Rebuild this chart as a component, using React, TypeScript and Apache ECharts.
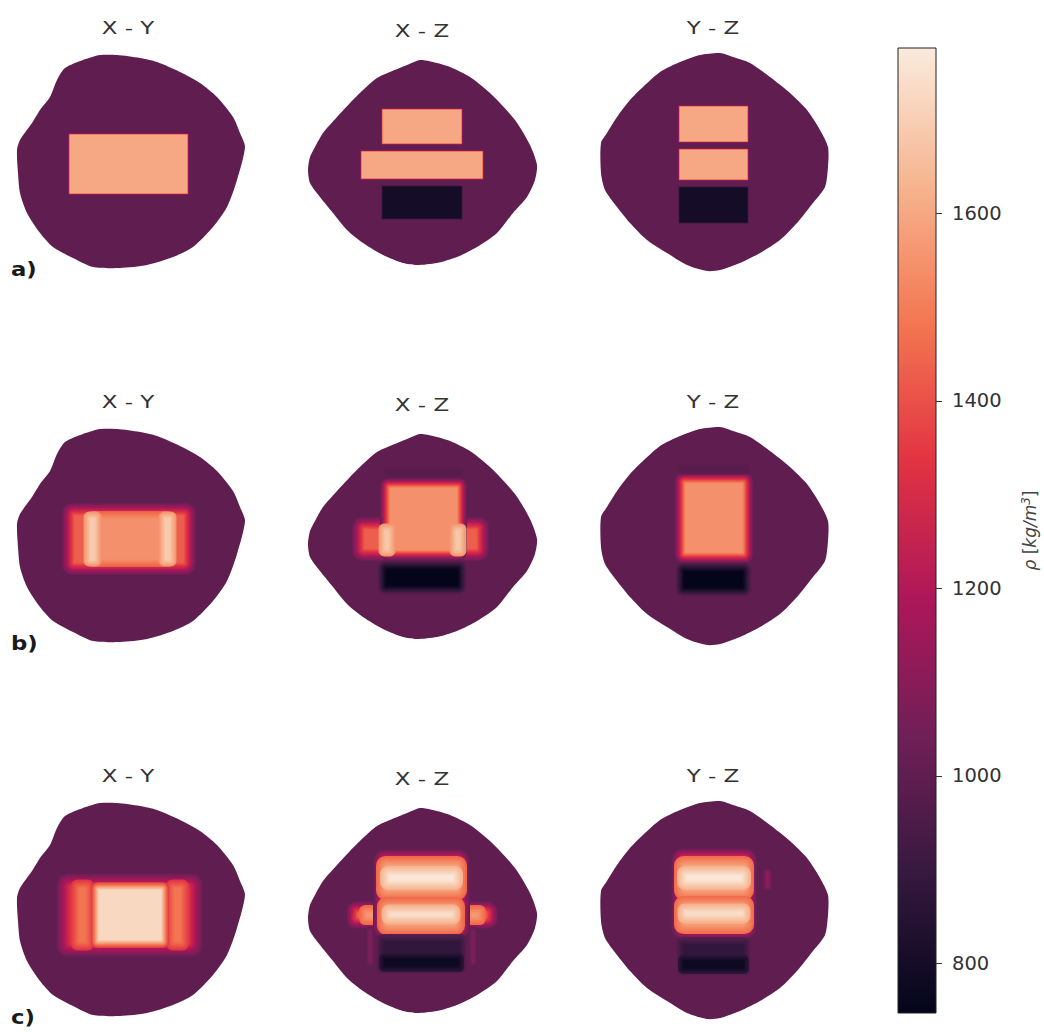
import React, { useEffect, useRef } from "react";
import * as echarts from "echarts";

// ---------- colour scale (density, kg/m^3) ----------
const CB_MIN = 747;
const CB_MAX = 1776;
const CB_TICKS = [800, 1000, 1200, 1400, 1600];
const BACKGROUND = 1000;

// seaborn "rocket" colormap anchor colours
const ROCKET_POS = [0.0, 0.143, 0.286, 0.429, 0.571, 0.714, 0.857, 1.0];
const ROCKET_HEX = ["#03051a", "#35193e", "#701f57", "#ad1759", "#e13342", "#f37651", "#f6b48f", "#faebdd"];

const ROW_LABELS = ["a)", "b)", "c)"];
const COL_TITLES = ["X - Y", "X - Z", "Y - Z"];

// ---------- outlines of the phantom in each slice (panel units) ----------
const OUTLINE_XY = [[85,5],[68,10],[50,18],[42,30],[35,47],[25,60],[17,73],[5,90],[2,100],[3,123],[5,143],[12,163],[25,183],[38,197],[58,208],[78,217],[105,218],[132,215],[158,207],[178,197],[198,177],[212,157],[222,130],[230,97],[225,83],[218,67],[202,47],[185,33],[165,22],[142,12],[125,8],[102,5]];
const OUTLINE_XZ = [[115,10],[102,15],[85,22],[72,28],[58,40],[45,53],[32,67],[18,83],[10,97],[5,107],[3,120],[5,133],[15,147],[28,163],[42,180],[58,193],[78,205],[98,213],[112,215],[132,213],[152,207],[172,197],[192,183],[208,163],[222,147],[230,130],[232,115],[225,95],[210,70],[185,43],[165,27],[145,17],[128,12]];
const OUTLINE_YZ = [[122,3],[102,5],[82,12],[62,22],[45,37],[32,50],[19,67],[9,83],[3,93],[3,123],[7,140],[19,157],[32,173],[49,190],[69,203],[89,215],[109,221],[122,220],[142,213],[162,203],[182,190],[199,173],[215,153],[227,137],[230,117],[230,97],[222,80],[209,60],[192,43],[172,27],[152,13],[135,7]];

// ---------- inclusions: [x0, y0, x1, y1, density, surrounding density, edge blur] ----------
const A_XY = [[54,84,173,144,1600,1000,1.5]];
const A_XZ = [[77,59,157,94,1600,1000,1.5],[56,101,178,129,1600,1000,1.5],[77,136,157,169,800,1000,1.5]];
const A_YZ = [[81,56,150,92,1600,1000,1.5],[81,99,150,130,1600,1000,1.5],[81,137,150,173,800,1000,1.5]];

const B_XY = [[53,85,175,145,1430,1000,13],[76,91,154,139,1545,1430,8],[72,91,83,139,1690,1545,7],[147,91,158,139,1690,1545,7]];
const B_XZ = [[53,99,178,131,1430,1000,13],[80,59,157,131,1545,1000,10],[77,103,87,129,1680,1545,7],[148,103,158,129,1680,1545,7],[77,141,157,166,750,1000,9],[80,45,157,51,978,1000,5]];
const B_YZ = [[82,54,150,134,1545,1000,11],[82,143,149,168,750,1000,9],[82,42,150,48,978,1000,5]];

const C_XY = [[48,82,181,152,1330,1000,15],[60,86,75,148,1480,1330,9],[155,86,170,148,1480,1330,9],[80,88,150,146,1725,1330,8]];
const C_XZ = [[47,109,187,125,1440,1000,12],[58,111,72,123,1560,1440,8],[163,111,177,123,1560,1440,8],[75,58,158,134,1440,1000,14],[77,64,156,96,1620,1440,12],[80,73,153,87,1765,1620,10],[78,105,154,131,1610,1440,12],[81,111,151,122,1740,1610,9],[75,140,158,172,880,1000,8],[77,158,156,171,780,880,6],[63,131,67,166,1090,1000,4],[166,131,170,166,1090,1000,4]];
const C_YZ = [[80,57,152,134,1450,1000,14],[82,64,150,96,1620,1450,12],[84,73,148,87,1765,1620,10],[82,104,150,130,1610,1450,12],[84,110,148,121,1740,1610,9],[82,143,149,174,880,1000,8],[83,160,148,173,780,880,6],[167,73,172,90,1130,1000,4]];

const PANEL_RECTS = [
  [A_XY, A_XZ, A_YZ],
  [B_XY, B_XZ, B_YZ],
  [C_XY, C_XZ, C_YZ],
];
const OUTLINES = [OUTLINE_XY, OUTLINE_XZ, OUTLINE_YZ];

// ---------- layout ----------
const COL_LEFT = [15, 305, 598];
const ROW_TOP = [50, 424, 798];
const PANEL_W = 235;
const PANEL_H = 225;
const TITLE_X = [128, 422, 713];
const TITLE_DY = [-22, -19, -22];

function hexToRgb(h: string) {
  const n = parseInt(h.slice(1), 16);
  return [(n >> 16) & 255, (n >> 8) & 255, n & 255];
}
const ROCKET_RGB = ROCKET_HEX.map(hexToRgb);

function rocket(v: number) {
  let t = (v - CB_MIN) / (CB_MAX - CB_MIN);
  t = Math.max(0, Math.min(1, t));
  let k = 0;
  while (k < ROCKET_POS.length - 2 && t > ROCKET_POS[k + 1]) k++;
  const f = (t - ROCKET_POS[k]) / (ROCKET_POS[k + 1] - ROCKET_POS[k]);
  const a = ROCKET_RGB[k];
  const b = ROCKET_RGB[k + 1];
  const c = a.map((x, i) => Math.round(x + (b[i] - x) * f));
  return `rgb(${c[0]},${c[1]},${c[2]})`;
}

function buildOption() {
  const grid: any[] = [];
  const xAxis: any[] = [];
  const yAxis: any[] = [];
  const series: any[] = [];
  const graphic: any[] = [];

  for (let r = 0; r < 3; r++) {
    for (let c = 0; c < 3; c++) {
      const idx = r * 3 + c;
      grid.push({ left: COL_LEFT[c], top: ROW_TOP[r], width: PANEL_W, height: PANEL_H });
      xAxis.push({ type: "value", gridIndex: idx, min: 0, max: PANEL_W, show: false });
      yAxis.push({ type: "value", gridIndex: idx, min: 0, max: PANEL_H, inverse: true, show: false });
      const outline = OUTLINES[c];
      series.push({
        type: "custom",
        xAxisIndex: idx,
        yAxisIndex: idx,
        clip: false,
        silent: true,
        data: outline,
        encode: { x: 0, y: 1 },
        renderItem: (params: any, api: any) => {
          if (params.dataIndex !== 0) return null;
          const pts = outline.map((p) => api.coord(p));
          return { type: "polygon", shape: { points: pts, smooth: 0.25 }, style: { fill: rocket(BACKGROUND) } };
        },
      });
      series.push({
        type: "custom",
        xAxisIndex: idx,
        yAxisIndex: idx,
        clip: false,
        silent: true,
        data: PANEL_RECTS[r][c],
        encode: { x: 0, y: 1 },
        renderItem: (params: any, api: any) => {
          const x0 = api.value(0), y0 = api.value(1), x1 = api.value(2), y1 = api.value(3);
          const v = api.value(4), base = api.value(5), blur = api.value(6);
          const pA = api.coord([x0, y0]);
          const pB = api.coord([x1, y1]);
          const L = Math.min(pA[0], pB[0]);
          const R = Math.max(pA[0], pB[0]);
          const T = Math.min(pA[1], pB[1]);
          const B = Math.max(pA[1], pB[1]);
          const w = Math.abs(api.size([blur, 0])[0]);
          const N = Math.max(1, Math.round(w * 1.2));
          const children: any[] = [];
          const mk = (E: number, val: number) => {
            const width = Math.max(0, R - L + 2 * E);
            const height = Math.max(0, B - T + 2 * E);
            if (width <= 0 || height <= 0) return;
            let rad = Math.max(0, (E + w / 2) * 0.8);
            rad = Math.min(rad, width / 2, height / 2);
            children.push({
              type: "rect",
              shape: { x: L - E, y: T - E, width, height, r: rad },
              style: { fill: rocket(val) },
            });
          };
          for (let i = 1; i <= N; i++) {
            const E = w / 2 - ((i - 1) * w) / N;
            const f = (i - 0.5) / N;
            mk(E, base + (v - base) * f);
          }
          mk(-w / 2, v);
          return { type: "group", children };
        },
      });
      graphic.push({
        type: "text",
        x: TITLE_X[c],
        y: ROW_TOP[r] + TITLE_DY[c],
        scaleX: 1.35,
        silent: true,
        style: {
          text: COL_TITLES[c],
          fontSize: 17,
          fontFamily: "DejaVu Sans",
          fill: "#333333",
          align: "center",
          verticalAlign: "middle",
          textAlign: "center",
          textVerticalAlign: "middle",
        },
      });
    }
    graphic.push({
      type: "text",
      x: 11,
      y: ROW_TOP[r] + 220,
      scaleX: 1.2,
      silent: true,
      style: {
        text: ROW_LABELS[r],
        fontSize: 19,
        fontWeight: "bold",
        fontFamily: "DejaVu Sans",
        fill: "#1a1a1a",
        align: "left",
        verticalAlign: "middle",
        textAlign: "left",
        textVerticalAlign: "middle",
      },
    });
  }

  // colour bar
  const cb = 9;
  grid.push({ left: 898, top: 48, width: 38, height: 965 });
  xAxis.push({ type: "value", gridIndex: cb, min: 0, max: 1, show: false });
  yAxis.push({
    type: "value",
    gridIndex: cb,
    min: CB_MIN,
    max: CB_MAX,
    position: "right",
    axisLine: { show: false },
    splitLine: { show: false },
    axisTick: { show: false },
    axisLabel: {
      customValues: CB_TICKS,
      formatter: (v: number) => String(v),
      fontSize: 19.5,
      fontFamily: "DejaVu Sans",
      color: "#333",
      margin: 16,
    },
    name: "{i|ρ} [{i|kg/m}{s|3}]",
    nameLocation: "middle",
    nameRotate: 90,
    nameGap: 84,
    nameTextStyle: {
      fontSize: 17,
      fontFamily: "DejaVu Sans",
      color: "#444",
      rich: {
        i: { fontStyle: "italic", fontSize: 17, fontFamily: "DejaVu Sans", color: "#444" },
        s: { fontStyle: "italic", fontSize: 12, fontFamily: "DejaVu Sans", color: "#444", verticalAlign: "top", padding: [0, 0, 8, 0] },
      },
    },
  });
  const colorStops = ROCKET_POS.map((p, i) => ({ offset: p, color: ROCKET_HEX[i] }));
  series.push({
    type: "custom",
    xAxisIndex: cb,
    yAxisIndex: cb,
    clip: false,
    silent: true,
    data: [[0, CB_MIN, 1, CB_MAX]],
    encode: { x: 0, y: 1 },
    renderItem: (params: any, api: any) => {
      const p0 = api.coord([api.value(0), api.value(1)]);
      const p1 = api.coord([api.value(2), api.value(3)]);
      return {
        type: "rect",
        shape: { x: p0[0], y: p1[1], width: p1[0] - p0[0], height: p0[1] - p1[1] },
        style: {
          fill: { type: "linear", x: 0, y: 1, x2: 0, y2: 0, colorStops },
          stroke: "#222",
          lineWidth: 1,
        },
      };
    },
  });
  // colour bar ticks
  series.push({
    type: "custom",
    xAxisIndex: cb,
    yAxisIndex: cb,
    clip: false,
    silent: true,
    data: CB_TICKS.map((t) => [1, t]),
    encode: { x: 0, y: 1 },
    renderItem: (params: any, api: any) => {
      const p = api.coord([api.value(0), api.value(1)]);
      const y = Math.round(p[1]) + 0.5;
      return {
        type: "line",
        shape: { x1: p[0], y1: y, x2: p[0] + 6, y2: y },
        style: { stroke: "#333", lineWidth: 1 },
      };
    },
  });

  return { animation: false, backgroundColor: "#ffffff", grid, xAxis, yAxis, series, graphic };
}

export default function App() {
  const ref = useRef<HTMLDivElement>(null);
  useEffect(() => {
    if (!ref.current) return;
    const chart = echarts.init(ref.current, undefined, { renderer: "svg" });
    chart.setOption(buildOption() as any);
    return () => chart.dispose();
  }, []);
  return <div ref={ref} style={{ position: "fixed", left: 0, top: 0, width: 1044, height: 1032 }} />;
}
